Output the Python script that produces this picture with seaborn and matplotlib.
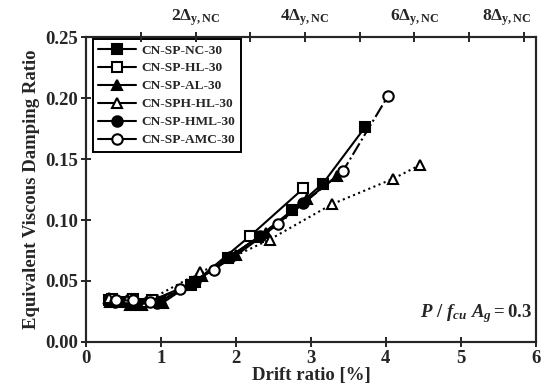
import matplotlib

matplotlib.use("Agg")
import matplotlib.pyplot as plt
import matplotlib.transforms as mtransforms
from matplotlib.lines import Line2D
import seaborn as sns
import pandas as pd

# Drift ratio [%] / equivalent viscous damping ratio
nc_x = [0.30, 0.52, 0.70, 0.98, 1.40, 1.90, 2.30, 2.75, 3.16, 3.72]
nc_y = [0.034, 0.033, 0.031, 0.033, 0.047, 0.069, 0.086, 0.108, 0.130, 0.176]

hl_x = [0.35, 0.62, 0.88, 1.45, 2.19, 2.90]
hl_y = [0.035, 0.035, 0.034, 0.049, 0.087, 0.126]

al_x = [0.32, 0.58, 0.75, 1.02, 1.55, 2.00, 2.40, 2.95, 3.35]
al_y = [0.033, 0.030, 0.030, 0.032, 0.054, 0.071, 0.089, 0.117, 0.136]

sph_x = [0.30, 0.55, 0.80, 1.52, 2.45, 3.28, 4.10, 4.45]
sph_y = [0.036, 0.034, 0.033, 0.057, 0.084, 0.113, 0.134, 0.145]

hml_x = [0.38, 0.62, 0.95, 1.45, 1.92, 2.32, 2.90]
hml_y = [0.033, 0.031, 0.032, 0.050, 0.070, 0.087, 0.114]

amc_x = [0.40, 0.62, 0.85, 1.25, 1.70, 2.56, 3.43, 4.03]
amc_y = [0.034, 0.034, 0.033, 0.043, 0.059, 0.0965, 0.1405, 0.202]

specimens = ["CN-SP-NC-30", "CN-SP-HL-30", "CN-SP-AL-30",
             "CN-SPH-HL-30", "CN-SP-HML-30", "CN-SP-AMC-30"]
xs = [nc_x, hl_x, al_x, sph_x, hml_x, amc_x]
ys = [nc_y, hl_y, al_y, sph_y, hml_y, amc_y]

# yield drift of NC specimen (top axis)
dy_nc = 0.73
top_mult = [1, 2, 3, 4, 5, 6, 7, 8]

# style per specimen: marker, face colour, line style
styles = {
    "CN-SP-NC-30": ("s", "black", "-"),
    "CN-SP-HL-30": ("s", "white", "-"),
    "CN-SP-AL-30": ("^", "black", "-"),
    "CN-SPH-HL-30": ("^", "white", ":"),
    "CN-SP-HML-30": ("o", "black", "-"),
    "CN-SP-AMC-30": ("o", "white", "-."),
}

rows = []
for name, x, y in zip(specimens, xs, ys):
    for xi, yi in zip(x, y):
        rows.append({"specimen": name, "drift": xi, "damping": yi})
df = pd.DataFrame(rows)

sns.set_style("ticks")
plt.rcParams["font.family"] = ["Liberation Serif", "DejaVu Serif"]
plt.rcParams["font.weight"] = "bold"
plt.rcParams["axes.labelweight"] = "bold"
plt.rcParams["mathtext.fontset"] = "custom"
plt.rcParams["mathtext.rm"] = "Liberation Serif:bold"
plt.rcParams["mathtext.bf"] = "Liberation Serif:bold"
plt.rcParams["mathtext.it"] = "Liberation Serif:bold:italic"

fig, ax = plt.subplots(figsize=(5.45, 3.85), dpi=100)
fig.subplots_adjust(left=0.158, right=0.983, top=0.903, bottom=0.112)

for name, data in df.groupby("specimen", sort=False):
    marker, face, ls = styles[name]
    sns.lineplot(
        data=data,
        x="drift",
        y="damping",
        ax=ax,
        color="black",
        marker=marker,
        markersize=7.5,
        markerfacecolor=face,
        mec="black",
        mew=1.5,
        linestyle=ls,
        linewidth=1.5,
        estimator=None,
        errorbar=None,
        sort=False,
        legend=False,
    )

ax.set_xlim(0, 6)
ax.set_ylim(0, 0.25)
ax.set_xticks(range(0, 7))
ax.set_yticks([0, 0.05, 0.10, 0.15, 0.20, 0.25])
ax.yaxis.set_major_formatter(plt.FormatStrFormatter("%.2f"))
ax.set_xlabel("Drift ratio [%]", fontsize=13.5, labelpad=0)
ax.set_ylabel("Equivalent Viscous Damping Ratio", fontsize=13.5, labelpad=4)
ax.tick_params(direction="inout", length=7, width=1.4, labelsize=13.5, pad=2)
for sp in ax.spines.values():
    sp.set_linewidth(1.5)

# top axis in multiples of yield drift
ax2 = ax.twiny()
ax2.set_xlim(ax.get_xlim())
ax2.set_xticks([m * dy_nc for m in top_mult])
ax2.set_xticklabels(
    [rf"{m}$\Delta_\mathrm{{y,NC}}$" if m % 2 == 0 else "" for m in top_mult],
    fontsize=12.5,
)
ax2.tick_params(direction="inout", length=7, width=1.4, pad=3)
last = ax2.get_xticklabels()[-1]
last.set_transform(last.get_transform()
                   + mtransforms.ScaledTranslation(-12 / 72, 0, fig.dpi_scale_trans))
for sp in ax2.spines.values():
    sp.set_linewidth(1.5)

handles = []
for name in specimens:
    marker, face, ls = styles[name]
    handles.append(Line2D([], [], color="black", marker=marker, markersize=7.5,
                          markerfacecolor=face, markeredgecolor="black",
                          markeredgewidth=1.5, linewidth=1.5, linestyle="-"))
leg = ax.legend(handles, specimens, loc="upper left", bbox_to_anchor=(0.015, 0.995),
                borderaxespad=0, fontsize=9.6, handlelength=2.8, handletextpad=0.45,
                labelspacing=0.42, borderpad=0.4, fancybox=False, framealpha=1)
leg.get_frame().set_edgecolor("black")
leg.get_frame().set_linewidth(1.4)

ax.text(5.95, 0.023, r"$\mathit{P\ /\ f_{cu}\ A_g = 0.3}$", ha="right", va="center",
        fontsize=13.5)

plt.savefig("out.png", dpi=100)
